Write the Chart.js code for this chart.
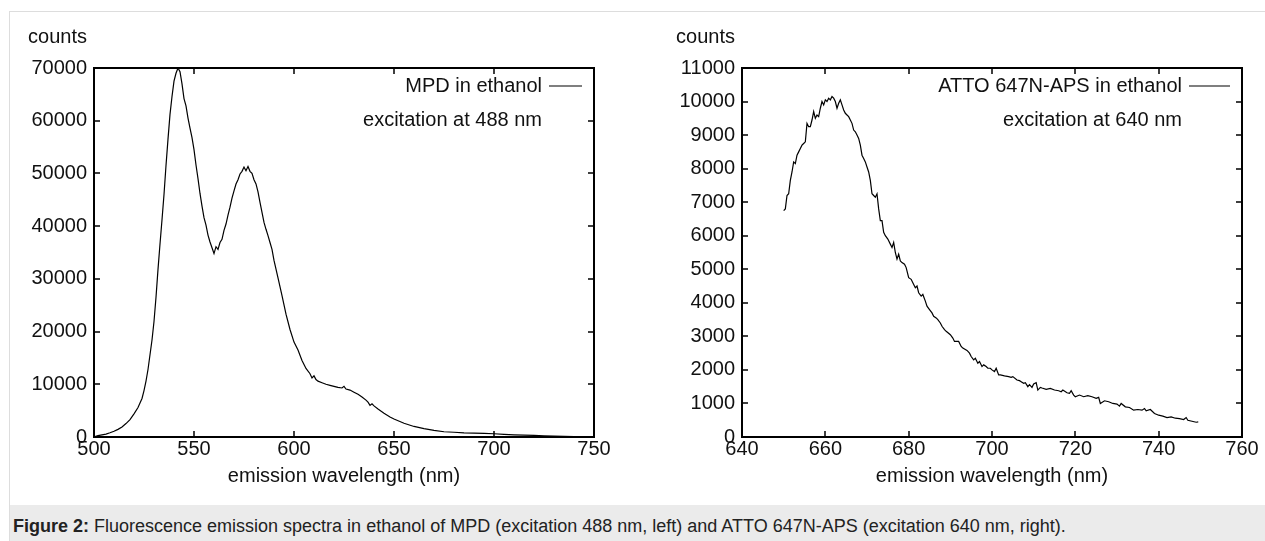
<!DOCTYPE html>
<html>
<head>
<meta charset="utf-8">
<script src="https://cdn.jsdelivr.net/npm/chart.js@4.4.0/dist/chart.umd.min.js"></script>
<style>
  body { margin: 0; background: #fff; width: 1265px; height: 541px; overflow: hidden; position: relative;
         font-family: "Liberation Sans", Arial, sans-serif; }
  .frame { position: absolute; left: 9px; top: 11px; width: 1300px; height: 600px; border: 1px solid #dddddd; }
  canvas { position: absolute; top: 0; }
  #left { left: 0; }
  #right { left: 632px; }
  .caption { position: absolute; left: 10px; top: 505px; width: 1300px; height: 40px; background: #ebebeb;
             font-size: 18px; color: #222; line-height: 42px; padding-left: 3px; }
</style>
</head>
<body>
<div class="frame"></div>
<canvas id="left" width="632" height="500"></canvas>
<canvas id="right" width="633" height="500"></canvas>
<div class="caption"><b>Figure 2:</b> Fluorescence emission spectra in ethanol of MPD (excitation 488 nm, left) and ATTO 647N-APS (excitation 640 nm, right).</div>
<script>
// MPD in ethanol, excitation 488 nm
const mpdWavelength = [500, 502, 504, 506, 508, 510, 512, 514, 516, 518, 520, 522, 524, 525, 526, 527, 528, 529, 530, 531,
  532, 533, 534, 535, 536, 537, 538, 539, 540, 541, 542, 543, 544, 545, 546, 547, 548, 549, 550, 551,
  552, 553, 554, 555, 556, 557, 558, 559, 560, 561, 562, 563, 564, 565, 566, 567, 568, 569, 570, 571,
  572, 573, 574, 575, 576, 577, 578, 579, 580, 581, 582, 583, 584, 585, 586, 587, 588, 589, 590, 592,
  594, 596, 598, 600, 602, 604, 606, 608, 609, 610, 611, 612, 614, 616, 618, 620, 622, 624, 625, 626,
  628, 630, 632, 634, 636, 637, 638, 639, 640, 642, 645, 648, 650, 655, 660, 665, 670, 675, 680, 685,
  690, 695, 700, 705, 710, 715, 720, 725, 730, 735, 740, 745, 750];
const mpdCounts = [0, 250, 400, 550, 800, 1100, 1450, 1900, 2550, 3300, 4400, 5600, 7300, 8800, 10600, 12800, 15600, 18400, 21900, 26500,
  31800, 36600, 41200, 46000, 51500, 56500, 61200, 64600, 67500, 69000, 70000, 69300, 67000, 64200, 62800, 60500, 58600, 56800, 54500, 51600,
  49000, 46200, 43800, 41600, 40200, 38300, 37000, 35900, 34800, 36100, 35600, 36900, 37500, 39200, 40400, 42100, 43600, 45300, 46700, 48000,
  48800, 49900, 50400, 51200, 50500, 51300, 50400, 50000, 48800, 48000, 46500, 44500, 42600, 40700, 39400, 38200, 36900, 35600, 33500, 30200,
  26800, 23300, 20400, 18000, 16500, 14500, 13000, 12000, 11200, 11600, 10900, 10600, 10300, 10000, 9800, 9600, 9400, 9300, 9600, 9100,
  8900, 8500, 8100, 7600, 7000, 6600, 6000, 6300, 5900, 5300, 4500, 3800, 3400, 2600, 2000, 1600, 1250, 1000, 900, 800,
  750, 700, 620, 500, 420, 350, 300, 220, 150, 100, 80, 50, 30];

// ATTO 647N-APS in ethanol, excitation 640 nm
const attoWavelength = [650.0, 650.4, 650.8, 651.2, 651.6, 652.0, 652.4, 652.8, 653.2, 653.6, 654.0, 654.4, 654.8, 655.2, 655.6, 656.0,
  656.4, 656.8, 657.2, 657.6, 658.0, 658.4, 658.8, 659.2, 659.6, 660.0, 660.4, 660.8, 661.2, 661.6, 662.0, 662.4,
  662.8, 663.2, 663.6, 664.0, 664.4, 664.8, 665.2, 665.6, 666.0, 666.4, 666.8, 667.2, 667.6, 668.0, 668.4, 668.8,
  669.2, 669.6, 670.0, 670.4, 670.8, 671.2, 671.6, 672.0, 672.4, 672.8, 673.2, 673.6, 674.0, 674.4, 675.0, 675.6,
  676.0, 676.4, 676.8, 677.2, 677.6, 678.0, 678.4, 679.0, 679.4, 680.0, 680.6, 681.0, 681.6, 682.0, 682.4, 683.0,
  683.4, 684.0, 684.4, 685.0, 685.6, 686.0, 686.6, 687.0, 687.6, 688.0, 688.6, 689.0, 690.0, 690.6, 691.0, 692.0,
  692.6, 693.0, 694.0, 694.6, 695.0, 695.6, 696.0, 696.6, 697.0, 697.6, 698.0, 698.6, 699.0, 699.6, 700.0, 700.6,
  701.0, 701.6, 702.0, 703.0, 704.0, 704.6, 705.0, 706.0, 706.6, 707.0, 707.6, 708.0, 708.6, 709.0, 709.6, 710.0,
  710.6, 711.0, 711.6, 712.0, 713.0, 714.0, 715.0, 716.0, 716.6, 717.0, 718.0, 718.6, 719.0, 719.6, 720.0, 721.0,
  722.0, 723.0, 724.0, 725.0, 725.6, 726.0, 727.0, 728.0, 729.0, 730.0, 730.6, 731.0, 732.0, 733.0, 734.0, 735.0,
  736.0, 736.6, 737.0, 738.0, 739.0, 740.0, 741.0, 742.0, 743.0, 744.0, 745.0, 746.0, 746.6, 747.0, 748.0, 749.0, 749.5];
const attoCounts = [6750, 6800, 7200, 7250, 7650, 7900, 8200, 8150, 8400, 8500, 8600, 8700, 8750, 8800, 9350, 9250,
  9250, 9450, 9700, 9500, 9600, 9550, 9800, 10000, 9900, 10050, 10000, 10100, 10050, 10150, 10100, 10000,
  9800, 9950, 10050, 9900, 9750, 9650, 9600, 9550, 9450, 9350, 9150, 9100, 9000, 8900, 8700, 8400,
  8300, 8200, 8050, 7900, 7650, 7250, 7200, 7150, 7250, 6800, 6450, 6450, 6100, 6000, 5900, 5750,
  5650, 5800, 5500, 5300, 5450, 5250, 5200, 5150, 5050, 4750, 4700, 4600, 4450, 4500, 4300, 4200,
  4250, 4050, 3900, 3800, 3700, 3600, 3550, 3500, 3400, 3300, 3200, 3150, 3050, 2950, 2850, 2850,
  2700, 2650, 2580, 2500, 2400, 2300, 2350, 2200, 2250, 2100, 2150, 2100, 2050, 2050, 2000, 1950,
  2050, 1850, 1850, 1820, 1800, 1780, 1800, 1700, 1680, 1650, 1600, 1620, 1500, 1560, 1480, 1580,
  1620, 1400, 1480, 1460, 1420, 1450, 1400, 1380, 1350, 1400, 1320, 1300, 1380, 1250, 1200, 1250,
  1200, 1230, 1200, 1150, 1180, 1000, 1080, 1050, 1000, 980, 920, 1000, 900, 880, 800, 820,
  800, 850, 780, 820, 700, 650, 620, 580, 600, 560, 550, 520, 580, 500, 470, 440, 450];

const tickFont = { family: '"Liberation Sans", Arial, sans-serif', size: 20 };

// gnuplot-style box: full border, inward mirrored tics, text key, "counts" label
const gnuplotFrame = {
  id: 'gnuplotFrame',
  afterDraw(chart, args, opts) {
    const { ctx, chartArea: a, scales: { x, y } } = chart;
    ctx.save();
    ctx.strokeStyle = '#000';
    ctx.lineWidth = 1.5;
    ctx.beginPath();
    x.ticks.forEach(t => {
      const px = Math.round(x.getPixelForValue(t.value));
      ctx.moveTo(px, a.bottom); ctx.lineTo(px, a.bottom - 6);
      ctx.moveTo(px, a.top); ctx.lineTo(px, a.top + 6);
    });
    y.ticks.forEach(t => {
      const py = Math.round(y.getPixelForValue(t.value));
      ctx.moveTo(a.left, py); ctx.lineTo(a.left + 6, py);
      ctx.moveTo(a.right, py); ctx.lineTo(a.right - 6, py);
    });
    ctx.stroke();
    ctx.lineWidth = 2;
    ctx.strokeRect(a.left, a.top, a.right - a.left, a.bottom - a.top);

    ctx.fillStyle = '#111';
    ctx.font = '20px "Liberation Sans", Arial, sans-serif';
    ctx.textBaseline = 'middle';
    ctx.textAlign = 'right';
    ctx.fillText('counts', a.left - 7, 37);

    const textRight = a.right - opts.keyGap;
    ctx.fillText(chart.data.datasets[0].label, textRight, a.top + 18);
    ctx.fillText(opts.note, textRight, a.top + 52);
    ctx.lineWidth = 1.2;
    ctx.beginPath();
    ctx.moveTo(textRight + 7, a.top + 18);
    ctx.lineTo(a.right - 12, a.top + 18);
    ctx.stroke();
    ctx.restore();
  }
};

function makeChart(id, label, xs, ys, xRange, yRange, axisWidth, padRight, keyGap, note) {
  const ctx = document.getElementById(id).getContext('2d');
  return new Chart(ctx, {
    type: 'line',
    data: {
      datasets: [{
        label: label,
        data: xs.map((v, i) => ({ x: v, y: ys[i] })),
        borderColor: '#000',
        borderWidth: 1.2,
        pointRadius: 0,
        tension: 0,
        fill: false,
      }],
    },
    options: {
      responsive: false,
      animation: false,
      events: [],
      layout: { padding: { top: 68, right: padRight, bottom: 0, left: 0 } },
      plugins: {
        legend: { display: false },
        tooltip: { enabled: false },
        gnuplotFrame: { keyGap: keyGap, note: note },
      },
      scales: {
        x: {
          type: 'linear',
          min: xRange[0], max: xRange[1],
          afterFit: s => { s.height = 63; },
          grid: { display: false, drawTicks: false },
          border: { display: false },
          ticks: { stepSize: xRange[2], padding: 0, color: '#111', font: tickFont, maxRotation: 0,
                   callback: v => String(v) },
          title: { display: true, text: 'emission wavelength (nm)', color: '#111', font: tickFont,
                   padding: { top: 0, bottom: 12 } },
        },
        y: {
          min: yRange[0], max: yRange[1],
          afterFit: s => { s.width = axisWidth; },
          grid: { display: false, drawTicks: false },
          border: { display: false },
          ticks: { stepSize: yRange[2], padding: 7, color: '#111', font: tickFont,
                   callback: v => String(v) },
        },
      },
    },
    plugins: [gnuplotFrame],
  });
}

makeChart('left', 'MPD in ethanol', mpdWavelength, mpdCounts,
  [500, 750, 50], [0, 70000, 10000], 94, 38, 52, 'excitation at 488 nm');
makeChart('right', 'ATTO 647N-APS in ethanol', attoWavelength, attoCounts,
  [640, 760, 20], [0, 11000, 1000], 110, 23, 60, 'excitation at 640 nm');
</script>
</body>
</html>
